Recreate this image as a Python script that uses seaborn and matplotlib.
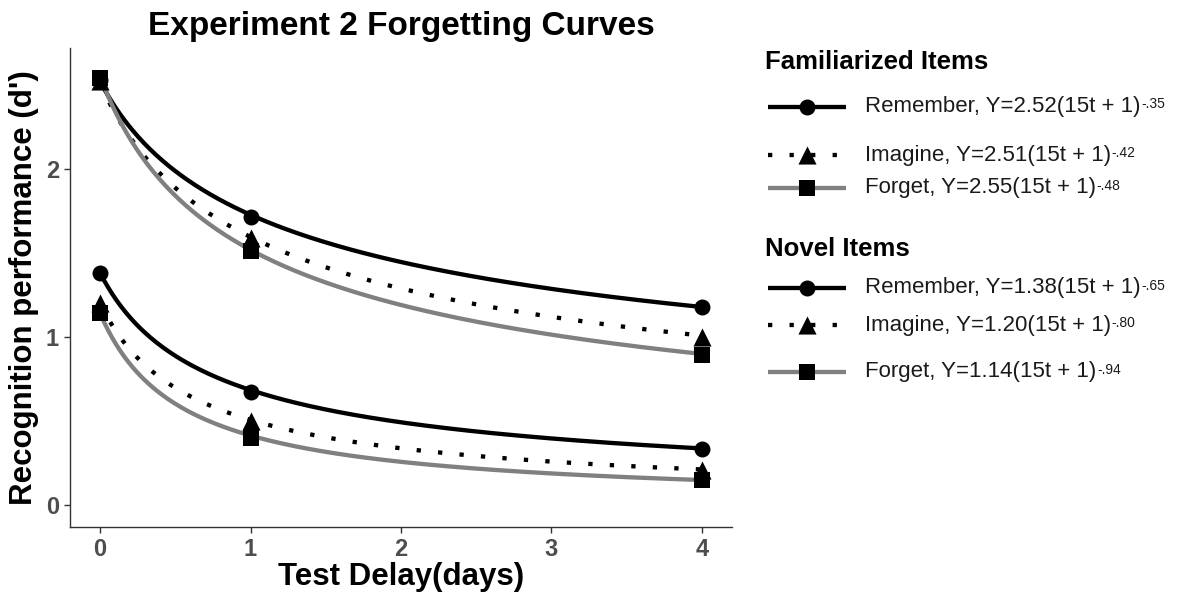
import numpy as np
import pandas as pd
import matplotlib
matplotlib.use("Agg")
import matplotlib.pyplot as plt
import seaborn as sns

# ---- observed recognition performance (d') at each test delay ----
delays = [0, 1, 4]
conditions = ["Remember", "Imagine", "Forget"]

fam_remember = [2.53, 1.71, 1.18]
fam_imagine = [2.52, 1.59, 1.00]
fam_forget = [2.54, 1.51, 0.89]

nov_remember = [1.38, 0.67, 0.33]
nov_imagine = [1.20, 0.50, 0.21]
nov_forget = [1.14, 0.40, 0.15]

# ---- fitted power functions Y = a * (15t + 1)^(-b) ----
fam_a = [2.52, 2.51, 2.55]
fam_b = [0.35, 0.42, 0.48]
nov_a = [1.38, 1.20, 1.14]
nov_b = [0.65, 0.80, 0.94]
fam_b_labels = ["-.35", "-.42", "-.48"]
nov_b_labels = ["-.65", "-.80", "-.94"]
days_to_t = 0.13  # conversion from days to the time unit of the fit

# ---- styling ----
sns.set_style("ticks")
plt.rcParams["font.family"] = ["Liberation Sans", "DejaVu Sans"]
plt.rcParams["text.color"] = "black"
plt.rcParams["axes.labelcolor"] = "black"

line_colors = {"Remember": "black", "Imagine": "black", "Forget": "#808080"}
line_dashes = {"Remember": "", "Imagine": (1, 4), "Forget": ""}
markers = {"Remember": "o", "Imagine": "^", "Forget": "s"}
marker_sizes = {"Remember": 132, "Imagine": 170, "Forget": 117}

# ---- tidy tables ----
obs_rows = []
for group, series in [("Familiarized", [fam_remember, fam_imagine, fam_forget]),
                      ("Novel", [nov_remember, nov_imagine, nov_forget])]:
    for cond, vals in zip(conditions, series):
        for d, v in zip(delays, vals):
            obs_rows.append({"group": group, "condition": cond, "delay": d, "dprime": v})
obs = pd.DataFrame(obs_rows)

grid = np.linspace(0, 4, 300)
fit_rows = []
for group, A, B in [("Familiarized", fam_a, fam_b), ("Novel", nov_a, nov_b)]:
    for cond, a, b in zip(conditions, A, B):
        y = a * (15 * grid * days_to_t + 1) ** (-b)
        fit_rows.append(pd.DataFrame({"group": group, "condition": cond,
                                      "delay": grid, "dprime": y}))
fits = pd.concat(fit_rows, ignore_index=True)

# ---- figure ----
W, H = 1197, 597
fig = plt.figure(figsize=(W / 100, H / 100), dpi=100)
ax = fig.add_axes([70 / W, 1 - 526.7 / H, (732 - 70) / W, (526.7 - 47.7) / H])

for group in ["Familiarized", "Novel"]:
    sns.lineplot(data=fits[fits["group"] == group], x="delay", y="dprime",
                 hue="condition", style="condition", palette=line_colors,
                 dashes=line_dashes, linewidth=3.1, legend=False, ax=ax,
                 estimator=None, sort=False)
for line in ax.get_lines():
    line.set_dash_capstyle("butt")
    line.set_solid_capstyle("butt")

for cond in conditions:
    sns.scatterplot(data=obs[obs["condition"] == cond], x="delay", y="dprime",
                    color="black", marker=markers[cond], s=marker_sizes[cond],
                    linewidth=0, legend=False, ax=ax, zorder=3)

ax.set_xlim(-0.2, 4.2)
ax.set_ylim(-0.13, 2.72)
ax.set_xticks([0, 1, 2, 3, 4])
ax.set_yticks([0, 1, 2])
sns.despine(ax=ax)
for side in ["left", "bottom"]:
    ax.spines[side].set_linewidth(1.0)
    ax.spines[side].set_color("#333333")
ax.tick_params(axis="both", length=4, width=1, color="#333333",
               labelcolor="#4D4D4D", labelsize=17, pad=4)
for lab in ax.get_xticklabels() + ax.get_yticklabels():
    lab.set_fontweight("bold")

ax.set_xlabel("Test Delay(days)", fontsize=22.5, fontweight="bold", labelpad=1)
ax.set_ylabel("Recognition performance (d')", fontsize=22.5, fontweight="bold", labelpad=5)
ax.set_title("Experiment 2 Forgetting Curves", fontsize=24, fontweight="bold", pad=9)

# ---- legend panel ----
lg = fig.add_axes([0, 0, 1, 1], facecolor="none")
lg.set_xlim(0, W)
lg.set_ylim(H, 0)
lg.axis("off")

key_x0, key_x1, key_mid, text_x = 768, 846, 807, 865


def legend_block(title, title_y, row_ys, A, b_labels):
    lg.text(765, title_y, title, fontsize=18.5, fontweight="bold",
            va="center", ha="left")
    for cond, yy, a, bl in zip(conditions, row_ys, A, b_labels):
        ls = (0, line_dashes[cond]) if line_dashes[cond] else "-"
        ln, = lg.plot([key_x0, key_x1], [yy, yy], color=line_colors[cond],
                      linewidth=3.1, linestyle=ls)
        ln.set_dash_capstyle("butt")
        ln.set_solid_capstyle("butt")
        lg.scatter([key_mid], [yy], marker=markers[cond], s=marker_sizes[cond],
                   color="black", linewidths=0, zorder=3)
        main = lg.text(text_x, yy, f"{cond}, Y={a:.2f}(15t + 1)", fontsize=16,
                       va="center", ha="left", color="#1a1a1a")
        lg.annotate(bl, xy=(1, 1), xycoords=main, xytext=(0.5, -1.0),
                    textcoords="offset points", fontsize=10, va="top",
                    ha="left", color="#1a1a1a")


legend_block("Familiarized Items", 62, [106.5, 155, 188], fam_a, fam_b_labels)
legend_block("Novel Items", 249, [288, 325, 372], nov_a, nov_b_labels)

fig.savefig("out.png", dpi=100)
